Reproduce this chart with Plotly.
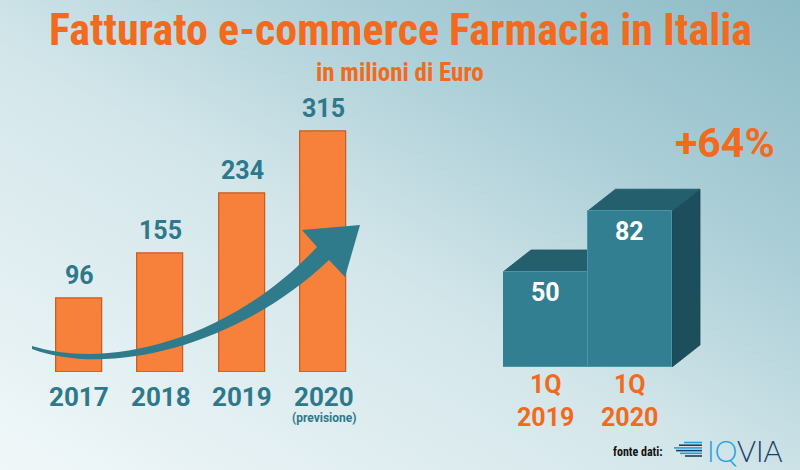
import base64
import plotly.graph_objects as go

# ---------------- data ----------------
years = ["2017", "2018", "2019", "2020"]
year_values = [96, 155, 234, 315]
year_notes = ["", "", "", "(previsione)"]

quarters = ["1Q<br>2019", "1Q<br>2020"]
quarter_values = [50, 82]
growth_label = "+64%"

title_text = "Fatturato e-commerce Farmacia in Italia"
subtitle_text = "in milioni di Euro"
source_label = "fonte dati:"

# ---------------- styling ----------------
W, H = 800, 470
ORANGE = "#f26a1e"
BAR_ORANGE = "#f7813a"
TEAL_TXT = "#2e788b"
TEAL_FRONT = "#327f92"
TEAL_TOP = "#245f6e"
TEAL_SIDE = "#1d4e5b"
ARROW = "#2f7b8c"
NARROW = "Liberation Sans Narrow, Roboto Condensed, Arial Narrow, Roboto, sans-serif"
SANS = "Roboto, Liberation Sans, sans-serif"


def px(x):
    return x / W


def py(y):
    return 1 - y / H


# background gradient as svg image
svg = f"""<svg xmlns='http://www.w3.org/2000/svg' width='{W}' height='{H}' viewBox='0 0 {W} {H}' preserveAspectRatio='none'>
<defs><linearGradient id='g' x1='0' y1='1' x2='1' y2='0'>
<stop offset='0' stop-color='#f0f7f9'/>
<stop offset='0.45' stop-color='#d3e6ea'/>
<stop offset='0.72' stop-color='#abced7'/>
<stop offset='1' stop-color='#8dbbc6'/>
</linearGradient></defs>
<rect width='{W}' height='{H}' fill='url(#g)'/></svg>"""
bg_uri = "data:image/svg+xml;base64," + base64.b64encode(svg.encode()).decode()

fig = go.Figure()

# ---------- left bar chart ----------
x_left = list(range(len(years)))
fig.add_trace(go.Bar(
    x=x_left, y=year_values, width=0.565,
    marker=dict(color=BAR_ORANGE, line=dict(color="#c95a1c", width=1.2)),
    xaxis="x", yaxis="y", hoverinfo="skip", showlegend=False,
))

# ---------- right 3D boxes (front faces) ----------
x_right = list(range(len(quarters)))
fig.add_trace(go.Bar(
    x=x_right, y=quarter_values, width=1.0,
    marker=dict(color=TEAL_FRONT, line=dict(color="#4b95a6", width=1)),
    xaxis="x2", yaxis="y2", hoverinfo="skip", showlegend=False,
))

# depth of the 3D boxes expressed in the axis units
x2_range = [-0.5, 2.0]
y2_range = [0, 120]
x2_px0, x2_px1 = 503, 714.25
y2_px0, y2_px1 = 367, 139
dx_u = 28 / ((x2_px1 - x2_px0) / (x2_range[1] - x2_range[0]))
dy_u = 22 / ((y2_px0 - y2_px1) / (y2_range[1] - y2_range[0]))

shapes = []
for i, v in enumerate(quarter_values):
    l, r = i - 0.5, i + 0.5
    top = f"M {l},{v} L {l+dx_u},{v+dy_u} L {r+dx_u},{v+dy_u} L {r},{v} Z"
    side = f"M {r},0 L {r+dx_u},{dy_u} L {r+dx_u},{v+dy_u} L {r},{v} Z"
    shapes.append(dict(type="path", path=side, xref="x2", yref="y2", layer="below",
                       fillcolor=TEAL_SIDE, line=dict(color="#1a4652", width=0.8)))
    shapes.append(dict(type="path", path=top, xref="x2", yref="y2", layer="below",
                       fillcolor=TEAL_TOP, line=dict(color="#1f5663", width=0.8)))

# ---------- curved arrow (decoration, in page pixels) ----------
def P(x, y):
    return f"{px(x):.5f},{py(y):.5f}"

arrow_path = (
    f"M {P(32,346)} C {P(110,370)} {P(230,340)} {P(317,247)} "
    f"L {P(302,230)} L {P(360,225)} L {P(345,277)} L {P(329,260)} "
    f"C {P(240,345)} {P(110,378)} {P(32,349)} Z"
)
shapes.append(dict(type="path", path=arrow_path, xref="paper", yref="paper",
                   fillcolor=ARROW, line=dict(width=0), layer="above"))

# ---------- IQVIA logo lines ----------
logo_rows = [(684, 702, "#1fa3dd"), (679, 702, "#1b3c6a"), (674, 702, "#1fa3dd"),
             (676, 702, "#1b3c6a"), (680, 702, "#1fa3dd"), (685, 702, "#1b3c6a")]
for k, (x0, x1, c) in enumerate(logo_rows):
    yy = 442.5 + k * 2.7
    shapes.append(dict(type="line", xref="paper", yref="paper",
                       x0=px(x0), x1=px(x1), y0=py(yy), y1=py(yy),
                       line=dict(color=c, width=1.6)))

# ---------- annotations ----------
ann = []
ann.append(dict(text=f"<b>{title_text}</b>", x=0.5, y=py(30), xref="paper", yref="paper",
                showarrow=False, font=dict(family=NARROW, size=44, color=ORANGE),
                xanchor="center", yanchor="middle", borderpad=0))
ann.append(dict(text=f"<b>{subtitle_text}</b>", x=0.5, y=py(72), xref="paper", yref="paper",
                showarrow=False, font=dict(family=NARROW, size=25, color=ORANGE),
                xanchor="center", yanchor="middle", borderpad=0))

for i, (yr, v, note) in enumerate(zip(years, year_values, year_notes)):
    ann.append(dict(text=f"<b>{v}</b>", x=i, y=v, xref="x", yref="y", showarrow=False,
                    yanchor="bottom", yshift=7,
                    font=dict(family=SANS, size=25, color=TEAL_TXT)))
    ann.append(dict(text=f"<b>{yr}</b>", x=i, y=py(397), xref="x", yref="paper",
                    showarrow=False, yanchor="middle",
                    font=dict(family=SANS, size=26, color=TEAL_TXT)))
    if note:
        ann.append(dict(text=f"<b>{note}</b>", x=i, y=py(418), xref="x", yref="paper",
                        showarrow=False, yanchor="middle",
                        font=dict(family=SANS, size=12, color=TEAL_TXT)))

for i, (q, v) in enumerate(zip(quarters, quarter_values)):
    ann.append(dict(text=f"<b>{v}</b>", x=i, y=v, xref="x2", yref="y2", showarrow=False,
                    yanchor="top", yshift=-4,
                    font=dict(family=SANS, size=25, color="white")))
    ann.append(dict(text=f"<b>{q}</b>", x=i, y=py(401), xref="x2", yref="paper",
                    showarrow=False, yanchor="middle",
                    font=dict(family=SANS, size=25, color=ORANGE)))

ann.append(dict(text=f"<b>{growth_label}</b>", x=px(725), y=py(143), xref="paper", yref="paper",
                showarrow=False, xanchor="center", yanchor="middle",
                font=dict(family=SANS, size=41, color=ORANGE)))
ann.append(dict(text=f"<b>{source_label}</b>", x=px(638), y=py(452), xref="paper", yref="paper",
                showarrow=False, xanchor="center", yanchor="middle",
                font=dict(family=NARROW, size=12, color="#111111")))
ann.append(dict(text="<span style='color:#1fa3dd'>IQ</span><span style='color:#1b3c6a'>VIA</span>",
                x=px(705), y=py(450), xref="paper", yref="paper",
                showarrow=False, xanchor="left", yanchor="middle",
                font=dict(family="Lato, Open Sans, sans-serif", size=29, weight=300)))

fig.update_layout(
    width=W, height=H,
    margin=dict(l=0, r=0, t=0, b=0),
    paper_bgcolor="#e4eff2",
    plot_bgcolor="rgba(0,0,0,0)",
    bargap=0,
    images=[dict(source=bg_uri, xref="paper", yref="paper", x=0, y=1, sizex=1, sizey=1,
                 xanchor="left", yanchor="top", sizing="stretch", layer="below")],
    xaxis=dict(domain=[px(38.25), px(364.25)], range=[-0.5, 3.5], visible=False, fixedrange=True),
    yaxis=dict(domain=[py(372), py(120.5)], range=[0, 330], visible=False, fixedrange=True),
    xaxis2=dict(domain=[px(x2_px0), px(x2_px1)], range=x2_range, visible=False, anchor="y2"),
    yaxis2=dict(domain=[py(y2_px0), py(y2_px1)], range=y2_range, visible=False, anchor="x2"),
    shapes=shapes,
    annotations=ann,
)

fig.write_html("out.html")
